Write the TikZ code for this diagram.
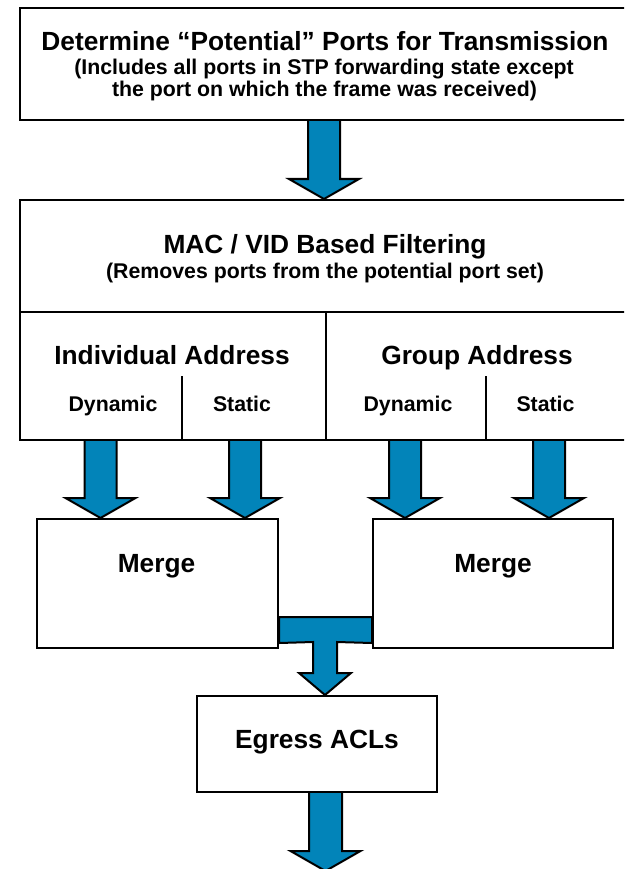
\documentclass[tikz,border=0pt]{standalone}
\usetikzlibrary{calc, positioning, backgrounds}
\usepackage{fontspec}
\setmainfont{Liberation Sans}
\definecolor{flowblue}{RGB}{2,132,185}

% block arrow pointing down: from, to, half shaft, half head, head length
\newcommand{\fatarrow}[5]{%
    \draw[fat arrow] let \p1=(#1), \p2=(#2) in
        (\x1-#3,\y1) -- (\x1-#3,\y2+#5) -- (\x1-#4,\y2+#5) -- (\x1,\y2)
        -- (\x1+#4,\y2+#5) -- (\x1+#3,\y2+#5) -- (\x1+#3,\y1);
}

\begin{document}
\begin{tikzpicture}[x=1pt, y=-1pt, line width=2pt]
    \tikzstyle{box}=[draw, rectangle, inner sep=0pt, fill=white]
    \tikzstyle{head}=[font=\fontsize{26.3}{28}\selectfont\bfseries, inner sep=0pt, anchor=base]
    \tikzstyle{sub}=[font=\fontsize{21.3}{22}\selectfont\bfseries, inner sep=0pt, anchor=base]
    \tikzstyle{fat arrow}=[draw=black, fill=flowblue, line width=2pt]

    \useasboundingbox (0,0) rectangle (624,869);
    \clip (0,0) rectangle (624,869);

    % Potential ports
    \node[box, minimum width=608pt, minimum height=112pt] (detect) at (324,64) {};
    \node[head] (detect-title) at (325,51) {Determine “Potential” Ports for Transmission};
    \node[sub] (detect-sub1) at (324,74.5) {(Includes all ports in STP forwarding state except};
    \node[sub] (detect-sub2) at (324.5,96.5) {the port on which the frame was received)};

    % Filtering box and its cells
    \node[box, minimum width=608pt, minimum height=240pt] (filter) at (324,320) {};
    \node[head] (filter-title) at (325,253) {MAC / VID Based Filtering};
    \node[sub] (filter-sub) at (325,278) {(Removes ports from the potential port set)};
    \coordinate (split) at (326,312);
    \draw (filter.west |- split) -- (filter.east |- split);
    \draw (split) -- (split |- filter.south);
    \coordinate (div-I) at (182,376);
    \coordinate (div-G) at (486,376);
    \foreach \d in {I,G}
        \draw (div-\d) -- (div-\d |- filter.south);

    \node[head] (addr-I) at (172,364) {Individual Address};
    \node[head] (addr-G) at (477,364) {Group Address};
    \node[sub] (dyn-I) at (113,411) {Dynamic};
    \node[sub] (stat-I) at (242,411) {Static};
    \node[sub] (dyn-G) at (408,411) {Dynamic};
    \node[sub] (stat-G) at (545.5,411) {Static};

    % Merge boxes
    \node[box, minimum width=241pt, minimum height=129pt] (merge-I) at (157.5,583.5) {};
    \node[box, minimum width=240pt, minimum height=129pt] (merge-G) at (493,583.5) {};
    \node[head] (merge-I-text) at (156.5,572) {Merge};
    \node[head] (merge-G-text) at (493,572) {Merge};

    % Egress
    \node[box, minimum width=240pt, minimum height=96pt] (egress) at (317,744) {};
    \node[head] (egress-text) at (317,748) {Egress ACLs};

    \coordinate (merge-join) at (325,642);
    \coordinate (exit) at (325.5,871);
    \foreach \i/\cx in {1/100.5, 2/245, 3/405, 4/549}
        \coordinate (feed-\i) at (\cx,440);

    % Arrows go under the box borders
    \begin{scope}[on background layer]
        \fatarrow{detect.south}{filter.north}{16pt}{35pt}{20pt}
        \fatarrow{feed-1}{feed-1 |- merge-I.north}{16pt}{35pt}{20pt}
        \fatarrow{feed-2}{feed-2 |- merge-I.north}{16pt}{35pt}{20pt}
        \fatarrow{feed-3}{feed-3 |- merge-G.north}{16pt}{35pt}{20pt}
        \fatarrow{feed-4}{feed-4 |- merge-G.north}{16pt}{35pt}{20pt}
        \draw[fat arrow] let \p1=(merge-I.south east), \p2=(merge-G.south west),
                \p3=(merge-join), \p4=(egress.north) in
            (\x1,\y1+6pt) -- (\x1,\y1+32pt) -- (\x2,\y2+32pt) -- (\x2,\y2+6pt)
            -- (\x3+12pt,\y3) -- (\x3+12pt,\y4+22pt) -- (\x3+26pt,\y4+22pt) -- (\x3,\y4)
            -- (\x3-26pt,\y4+22pt) -- (\x3-12pt,\y4+22pt) -- (\x3-12pt,\y3) -- cycle;
        \fatarrow{exit |- egress.south}{exit}{16.5pt}{35pt}{20pt}
    \end{scope}
\end{tikzpicture}
\end{document}
